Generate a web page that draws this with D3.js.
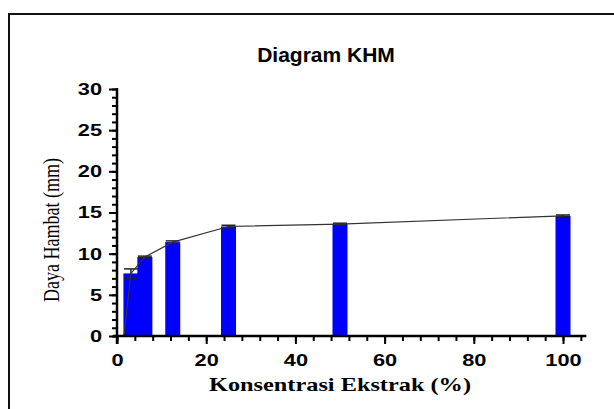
<meta charset="utf-8">
<body style="margin:0;background:#fff">
<div id="chart"></div>
</body>
<script src="https://d3js.org/d3.v7.min.js"></script>
<script>
// concentration (%) and zone of inhibition (mm)
var konsentrasi = [1.5625, 3.125, 6.25, 12.5, 25, 50, 100];
var dayaHambat  = [0, 7.6, 9.6, 11.4, 13.3, 13.6, 14.6];
var galat       = [0, 0.55, 0.1, 0.15, 0.15, 0.1, 0.1];
var xTicks = [0, 20, 40, 60, 80, 100];
var yTicks = [0, 5, 10, 15, 20, 25, 30];

var width = 614, height = 409;
var svg = d3.select("#chart").append("svg")
  .attr("width", width)
  .attr("height", height);

// frame
svg.append("rect")
  .attr("x", 9).attr("y", 14)
  .attr("width", 640).attr("height", 420)
  .attr("fill", "none").attr("stroke", "#111").attr("stroke-width", 2);

var x = d3.scaleLinear().domain([0, 105]).range([117, 585.3]);
var y = d3.scaleLinear().domain([0, 30]).range([336, 89]);

svg.append("text")
  .attr("x", 326).attr("y", 62)
  .attr("text-anchor", "middle")
  .style("font", "bold 21px Arial, 'Liberation Sans', sans-serif")
  .text("Diagram KHM");

var barW = 15;
var data = konsentrasi.map(function(k, i) { return {k: k, v: dayaHambat[i], e: galat[i]}; });

svg.selectAll("rect.bar")
  .data(data.filter(function(d) { return d.v > 0; }))
  .enter().append("rect")
  .attr("class", "bar")
  .attr("x", function(d) { return x(d.k) - barW / 2; })
  .attr("y", function(d) { return y(d.v); })
  .attr("width", barW)
  .attr("height", function(d) { return y(0) - y(d.v); })
  .attr("fill", "#0000ff");

// error bars
var eb = svg.selectAll("g.err")
  .data(data.filter(function(d) { return d.e > 0; }))
  .enter().append("g").attr("class", "err")
  .attr("stroke", "#222").attr("stroke-width", 1.5);
eb.append("line")
  .attr("x1", function(d) { return x(d.k); }).attr("x2", function(d) { return x(d.k); })
  .attr("y1", function(d) { return y(d.v - d.e); }).attr("y2", function(d) { return y(d.v + d.e); });
eb.append("line")
  .attr("x1", function(d) { return x(d.k) - 7; }).attr("x2", function(d) { return x(d.k) + 7; })
  .attr("y1", function(d) { return y(d.v + d.e); }).attr("y2", function(d) { return y(d.v + d.e); });
eb.append("line")
  .attr("x1", function(d) { return x(d.k) - 7; }).attr("x2", function(d) { return x(d.k) + 7; })
  .attr("y1", function(d) { return y(d.v - d.e); }).attr("y2", function(d) { return y(d.v - d.e); });

// connecting line
svg.append("path")
  .datum(data)
  .attr("fill", "none")
  .attr("stroke", "#333")
  .attr("stroke-width", 1.2)
  .attr("d", d3.line().x(function(d) { return x(d.k); }).y(function(d) { return y(d.v); }));

// axes
var tickFont = "bold 17px Arial, 'Liberation Sans', sans-serif";
var sx = 1.28; // the original's lettering is stretched sideways

var xMinor = svg.append("g").attr("transform", "translate(0," + y(0) + ")")
  .call(d3.axisBottom(x).tickValues(d3.range(0, 105, 4)).tickSize(5).tickFormat(""));
var xAxis = svg.append("g").attr("transform", "translate(0," + y(0) + ")")
  .call(d3.axisBottom(x).tickValues(xTicks).tickSize(8).tickPadding(10));
var yMinor = svg.append("g").attr("transform", "translate(" + x(0) + ",0)")
  .call(d3.axisLeft(y).tickValues(d3.range(0, 31, 1)).tickSize(5).tickFormat(""));
var yAxis = svg.append("g").attr("transform", "translate(" + x(0) + ",0)")
  .call(d3.axisLeft(y).tickValues(yTicks).tickSize(8).tickPadding(6));

[xMinor, xAxis, yMinor, yAxis].forEach(function(g) {
  g.select(".domain").remove();
  g.selectAll("line").attr("stroke", "#000").attr("stroke-width", 2);
  g.selectAll("text").style("font", tickFont).attr("fill", "#000")
    .attr("transform", "scale(" + sx + ",1)");
});
yAxis.selectAll("text").attr("x", -15 / sx);

svg.append("line")
  .attr("x1", x(0) - 4).attr("x2", x(105) + 1)
  .attr("y1", y(0)).attr("y2", y(0))
  .attr("stroke", "#000").attr("stroke-width", 2.5);
svg.append("line")
  .attr("x1", x(0)).attr("x2", x(0))
  .attr("y1", y(30) - 1).attr("y2", y(0) + 8)
  .attr("stroke", "#000").attr("stroke-width", 2.5);

svg.append("text")
  .attr("transform", "translate(340,391) scale(" + sx + ",1)")
  .attr("text-anchor", "middle")
  .style("font", "bold 19px 'Liberation Serif', 'Times New Roman', serif")
  .text("Konsentrasi Ekstrak (%)");

svg.append("text")
  .attr("transform", "translate(59,230) scale(" + sx + ",1) rotate(-90)")
  .attr("text-anchor", "middle")
  .style("font", "18px 'Liberation Serif', 'Times New Roman', serif")
  .text("Daya Hambat (mm)");
</script>
